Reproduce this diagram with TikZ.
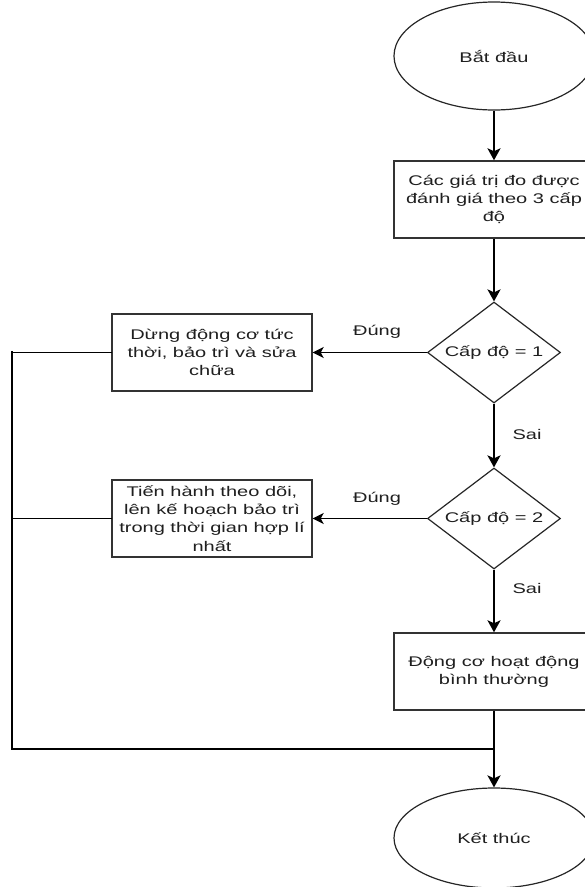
\documentclass[tikz,border=0pt]{standalone}
\usepackage{fontspec}
\setmainfont{Liberation Sans}[FakeStretch=1.43]
\usetikzlibrary{shapes.geometric,arrows.meta}

\begin{document}
\begin{tikzpicture}[x=1pt,y=-1pt,
  every node/.style={font=\fontsize{14}{18.3}\selectfont, text=black!88, inner sep=0pt},
  proc/.style={draw=black!80, line width=1.4pt, rectangle, minimum width=200pt, minimum height=77pt, align=center, fill=white},
  term/.style={draw=black!85, line width=1.2pt, ellipse, minimum width=200pt, minimum height=108pt, fill=white},
  dec/.style={draw=black!85, line width=1.2pt, diamond, aspect=1.32, minimum width=133pt, minimum height=101pt, fill=white},
  flow/.style={line width=2.4pt, -{Stealth[length=12pt,width=13pt,inset=3pt]}},
  side/.style={line width=1.6pt, -{Stealth[length=11pt,width=11pt,inset=3pt]}},
  hline/.style={line width=1.6pt, line cap=rect},
  vline/.style={line width=2.3pt, line cap=rect}
]
\useasboundingbox (0,0) rectangle (585,887);
\clip (0,0) rectangle (585,887);

% nodes
\node[term] (start) at (494,56) {Bắt đầu};
\node[proc] (boxa) at (494,199.5) {Các giá trị đo được\\đánh giá theo 3 cấp\\độ};
\node[dec] (d1) at (494,352.5) {Cấp độ = 1};
\node[proc] (b1) at (212,352.5) {Dừng động cơ tức\\thời, bảo trì và sửa\\chữa};
\node[dec] (d2) at (494,518.5) {Cấp độ = 2};
\node[proc] (b2) at (212,518.5) {Tiến hành theo dõi,\\lên kế hoạch bảo trì\\trong thời gian hợp lí\\nhất};
\node[proc] (b3) at (494,671.5) {Động cơ hoạt động\\bình thường};
\node[term, minimum height=100pt] (end) at (494,838) {Kết thúc};

% labels
\node (yes1) at (377,332) {Đúng};
\node (yes2) at (377,499) {Đúng};
\node (no1) at (527,434) {Sai};
\node (no2) at (527,588) {Sai};

% coordinates of the return line
\coordinate (lt) at (12,352.5);
\coordinate (lm) at (12,518.5);
\coordinate (lb) at (12,749);
\coordinate (j) at (494,749);

% connectors
\draw[flow] (start) -- (boxa);
\draw[flow] (boxa) -- (d1);
\draw[flow] (d1) -- (d2);
\draw[flow] (d2) -- (b3);
\draw[flow] (b3) -- (end);
\draw[side] (d1) -- (b1);
\draw[side] (d2) -- (b2);

\draw[hline] (b1.west) -- (lt);
\draw[hline] (b2.west) -- (lm);
\draw[vline] (lt) -- (lb);
\draw[hline] (lb) -- (j);
\end{tikzpicture}
\end{document}
